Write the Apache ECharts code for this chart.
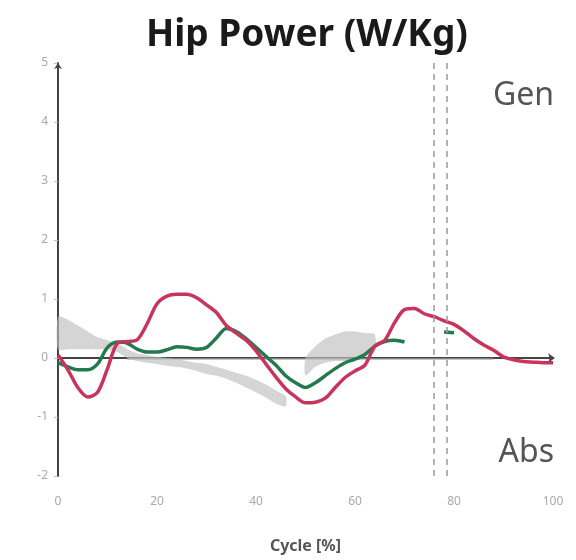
<!DOCTYPE html>
<html>
<head>
<meta charset="utf-8">
<script src="https://cdn.jsdelivr.net/npm/echarts@6/dist/echarts.min.js"></script>
<style>
    html, body { margin: 0; padding: 0; background: #fff; }
    #chart { width: 576px; height: 560px; }
</style>
</head>
<body>
<div id="chart"></div>
<script>
    // gait cycle (%)
    let cycle = [0, 2, 4, 6, 8, 10, 12, 14, 16, 18, 20, 22, 24, 26, 28, 30, 32, 34, 36, 38, 40,
        42, 44, 46, 48, 50, 52, 54, 56, 58, 60, 62, 64, 66, 68, 70, 72, 74, 76, 78, 80,
        82, 84, 86, 88, 90, 92, 94, 96, 98, 100];

    let redPower = [0.05, -0.2, -0.5, -0.66, -0.58, -0.18, 0.25, 0.28, 0.31, 0.58, 0.92,
        1.05, 1.08, 1.08, 1.02, 0.9, 0.77, 0.55, 0.42, 0.3, 0.12,
        -0.1, -0.32, -0.52, -0.66, -0.76, -0.75, -0.68, -0.5, -0.33, -0.22,
        -0.12, 0.2, 0.3, 0.6, 0.82, 0.84, 0.75, 0.7, 0.63, 0.57,
        0.46, 0.33, 0.22, 0.13, 0.02, -0.03, -0.06, -0.07, -0.08, -0.08];

    let greenPower = [-0.08, -0.15, -0.2, -0.2, -0.1, 0.18, 0.27, 0.25, 0.15, 0.1, 0.1,
        0.14, 0.19, 0.18, 0.15, 0.18, 0.34, 0.5, 0.45, 0.33, 0.18,
        0.03, -0.12, -0.3, -0.42, -0.5, -0.42, -0.3, -0.18, -0.08, -0.02,
        0.06, 0.2, 0.28, 0.3, 0.27, null, null, null, 0.44, 0.43,
        null, null, null, null, null, null, null, null, null, null];

    // normative band (lower / upper), null = no band
    let normLow = [0.15, 0.15, 0.15, 0.15, 0.15, 0.15, 0.1, 0.0, -0.05, -0.08, -0.1,
        -0.13, -0.15, -0.18, -0.22, -0.27, -0.3, -0.35, -0.42, -0.5, -0.58,
        -0.67, -0.77, -0.82, null, -0.3, -0.15, -0.08, -0.05, -0.05, 0.0,
        0.05, 0.1, null, null, null, null, null, null, null, null,
        null, null, null, null, null, null, null, null, null, null];
    let normHigh = [0.7, 0.65, 0.55, 0.45, 0.35, 0.3, 0.25, 0.15, 0.08, 0.05, 0.02,
        0.0, -0.02, -0.05, -0.08, -0.1, -0.15, -0.2, -0.25, -0.3, -0.37,
        -0.45, -0.55, -0.65, null, 0.0, 0.2, 0.33, 0.4, 0.45, 0.45,
        0.42, 0.4, null, null, null, null, null, null, null, null,
        null, null, null, null, null, null, null, null, null, null];
    // thin reference line near zero
    let normMean = [null, null, null, null, null, null, null, -0.02, -0.02, -0.02, -0.02,
        -0.02, -0.02, -0.02, -0.02, -0.02, -0.02, -0.02, -0.02, -0.02, -0.02,
        -0.02, -0.02, -0.02, -0.02, -0.02, -0.02, -0.02, -0.02, -0.02, -0.02,
        -0.02, -0.02, -0.02, -0.02, -0.02, -0.02, -0.02, -0.02, -0.02, -0.02,
        -0.02, -0.02, -0.02, -0.02, null, null, null, null, null, null];

    let eventLines = [76, 78.6];

    function pairs(vals) {
        return cycle.map((c, i) => [c, vals[i]]);
    }

    // split the band into runs of non-null points
    let bandRuns = [];
    let run = [];
    cycle.forEach((c, i) => {
        if (normLow[i] === null || normHigh[i] === null) {
            if (run.length) bandRuns.push(run);
            run = [];
        } else {
            run.push([c, normLow[i], normHigh[i]]);
        }
    });
    if (run.length) bandRuns.push(run);

    let elem = document.getElementById('chart');
    let myChart = echarts.init(elem, null, { renderer: 'canvas' });

    let option = {
        animation: false,
        title: {
            text: 'Hip Power (W/Kg)',
            left: 141,
            top: 12,
            textStyle: {
                fontFamily: 'Noto Sans',
                fontWeight: 'bold',
                fontSize: 37,
                color: '#1a1a1a'
            }
        },
        graphic: [
            {
                type: 'text', right: 22, top: 80,
                style: { text: 'Gen', font: '32px "Noto Sans"', fill: '#555' }
            },
            {
                type: 'text', right: 22, top: 437,
                style: { text: 'Abs', font: '32px "Noto Sans"', fill: '#555' }
            }
        ],
        grid: { left: 58, right: 23, top: 63, bottom: 84 },
        xAxis: {
            type: 'value',
            min: 0,
            max: 100,
            interval: 20,
            name: 'Cycle [%]',
            nameLocation: 'middle',
            nameGap: 62,
            nameTextStyle: { fontFamily: 'Noto Sans', fontSize: 16, color: '#555', fontWeight: 'bold' },
            axisLine: {
                lineStyle: { color: '#444', width: 2 },
                symbol: ['none', 'arrow'],
                symbolSize: [7, 7],
                symbolOffset: [0, 2]
            },
            axisTick: { show: false },
            axisLabel: { color: '#aaa', fontSize: 12, margin: 20, fontFamily: 'Noto Sans' },
            splitLine: { show: false }
        },
        yAxis: {
            type: 'value',
            min: -2,
            max: 5,
            interval: 1,
            axisLine: {
                show: true,
                lineStyle: { color: '#444', width: 2 },
                symbol: ['none', 'arrow'],
                symbolSize: [6, 6]
            },
            axisTick: { show: true, length: 4, lineStyle: { color: '#bbb' } },
            axisLabel: { color: '#aaa', fontSize: 12, margin: 10, fontFamily: 'Noto Sans' },
            splitLine: { show: false }
        },
        series: [
            {
                name: 'band',
                type: 'custom',
                silent: true,
                data: bandRuns.map((r, k) => [k]),
                renderItem: function (params, api) {
                    let pts = bandRuns[params.dataIndex];
                    let upper = pts.map(p => api.coord([p[0], p[2]]));
                    let lower = pts.slice().reverse().map(p => api.coord([p[0], p[1]]));
                    return {
                        type: 'polygon',
                        shape: { points: upper.concat(lower), smooth: 0.25 },
                        style: { fill: 'rgba(190,190,190,0.65)' }
                    };
                },
                z: 1
            },
            {
                name: 'mean',
                type: 'line',
                symbol: 'none',
                lineStyle: { color: '#c4c4c4', width: 1.5 },
                data: pairs(normMean),
                markLine: {
                    silent: true,
                    symbol: 'none',
                    label: { show: false },
                    lineStyle: { color: '#999', type: [6, 5], width: 1.5 },
                    data: eventLines.map(v => ({ xAxis: v }))
                },
                z: 2
            },
            {
                name: 'green',
                type: 'line',
                symbol: 'none',
                smooth: 0.3,
                connectNulls: false,
                lineStyle: { color: '#237a4d', width: 3.5 },
                data: pairs(greenPower),
                z: 3
            },
            {
                name: 'red',
                type: 'line',
                symbol: 'none',
                smooth: 0.3,
                lineStyle: { color: '#c8345c', width: 3.5 },
                data: pairs(redPower),
                z: 4
            }
        ]
    };

    myChart.setOption(option);
</script>
</body>
</html>
